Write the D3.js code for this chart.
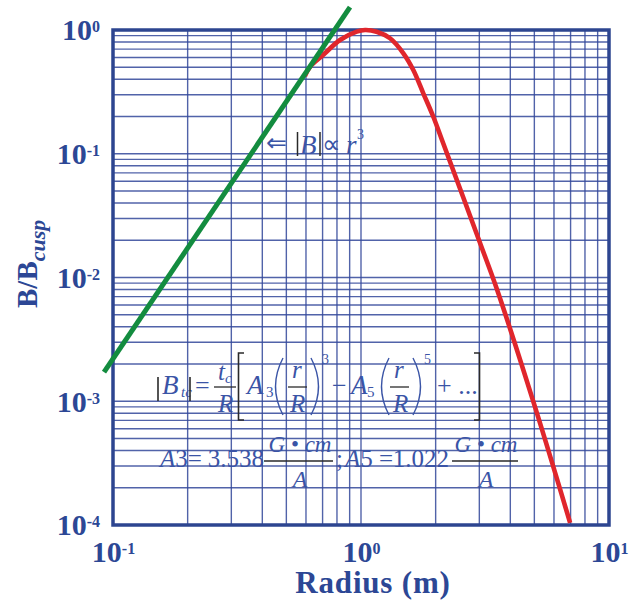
<!DOCTYPE html>
<html><head><meta charset="utf-8">
<script src="https://cdn.jsdelivr.net/npm/d3@7"></script>
<style>body{margin:0;background:#fff} svg{display:block}</style>
</head><body>
<script>
// ---- data ----
const radiusRed = [0.594, 0.623, 0.703, 0.823, 0.961, 1.038, 1.156, 1.309, 1.482, 1.625, 1.783, 1.957, 2.147, 3.02, 3.53, 5.03, 6.97];
const fieldRed  = [0.425, 0.505, 0.628, 0.830, 0.969, 1.0, 0.969, 0.857, 0.648, 0.475, 0.308, 0.199, 0.121, 0.019, 0.00807, 0.00090, 0.000104];
const radiusGreen = [0.092, 0.903];
const fieldGreen  = [0.00172, 1.53];
const xTickValues = [0.1, 1, 10];
const yTickValues = [1, 0.1, 0.01, 0.001, 0.0001];
const xTitle = "Radius (m)";
const yTitleMain = "B/B";
const yTitleSub = "cusp";

// ---- setup ----
const W = 641, H = 605;
const svg = d3.select("body").append("svg").attr("width", W).attr("height", H);
svg.append("rect").attr("width", W).attr("height", H).attr("fill", "#fff");

const x = d3.scaleLog().domain([0.1, 10]).range([113, 609]);
const y = d3.scaleLog().domain([1e-4, 1]).range([525, 30]);

const gridColor = "#33489a";
const axisTextColor = "#2c4795";
const formulaColor = "#3a54a6";
const darkInk = "#2a2a2a";
const serif = "'Liberation Serif', 'Times New Roman', serif";

// grid
const grid = svg.append("g");
grid.selectAll("line.v").data(x.ticks()).join("line").attr("class", "v")
  .attr("x1", d => x(d)).attr("x2", d => x(d))
  .attr("y1", y.range()[1]).attr("y2", y.range()[0])
  .attr("stroke", gridColor).attr("stroke-width", 1.4).attr("stroke-opacity", 0.85);
grid.selectAll("line.h").data(y.ticks()).join("line").attr("class", "h")
  .attr("y1", d => y(d)).attr("y2", d => y(d))
  .attr("x1", x.range()[0]).attr("x2", x.range()[1])
  .attr("stroke", gridColor).attr("stroke-width", 1.4).attr("stroke-opacity", 0.85);

// border
svg.append("rect")
  .attr("x", x.range()[0]).attr("y", y.range()[1])
  .attr("width", x.range()[1] - x.range()[0]).attr("height", y.range()[0] - y.range()[1])
  .attr("fill", "none").attr("stroke", "#2d4590").attr("stroke-width", 3.5);

// axes (labels only)
function supLabel(sel) {
  sel.each(function(d) {
    const t = d3.select(this);
    const e = Math.round(Math.log10(d));
    t.text(null);
    t.append("tspan").text("10");
    t.append("tspan").attr("dy", "-0.5em").attr("font-size", 16).text(String(e));
  });
}
const gx = svg.append("g").attr("transform", `translate(0,${y.range()[0]})`)
  .call(d3.axisBottom(x).tickValues(xTickValues).tickSize(0).tickFormat(() => ""));
gx.select(".domain").remove();
gx.selectAll(".tick text")
  .attr("y", 37).attr("dy", 0)
  .attr("font-family", serif).attr("font-weight", "bold").attr("font-size", 30)
  .attr("fill", axisTextColor).attr("text-anchor", "middle")
  .call(supLabel);

const gy = svg.append("g").attr("transform", `translate(${x.range()[0]},0)`)
  .call(d3.axisLeft(y).tickValues(yTickValues).tickSize(0).tickPadding(13).tickFormat(() => ""));
gy.select(".domain").remove();
gy.selectAll(".tick text")
  .attr("dy", "0.33em")
  .attr("font-family", serif).attr("font-weight", "bold").attr("font-size", 30)
  .attr("fill", axisTextColor).attr("text-anchor", "end")
  .call(supLabel);

// axis titles
svg.append("text").attr("x", 373).attr("y", 593).attr("text-anchor", "middle")
  .attr("font-family", serif).attr("font-weight", "bold").attr("font-size", 31)
  .attr("letter-spacing", 0.8).attr("fill", axisTextColor).text(xTitle);

const yt = svg.append("text").attr("transform", "translate(37,308) rotate(-90)")
  .attr("font-family", serif).attr("font-weight", "bold").attr("font-size", 29)
  .attr("fill", axisTextColor);
yt.append("tspan").text(yTitleMain);
yt.append("tspan").attr("dy", 8).attr("font-size", 22).attr("font-style", "italic").text(yTitleSub);

// curves
const line = d3.line().x(d => x(d[0])).y(d => y(d[1]));
svg.append("path")
  .datum(d3.zip(radiusRed, fieldRed))
  .attr("d", line.curve(d3.curveCatmullRom.alpha(0.5)))
  .attr("fill", "none").attr("stroke", "#e0262c").attr("stroke-width", 4.6);
svg.append("path")
  .datum(d3.zip(radiusGreen, fieldGreen))
  .attr("d", d3.line().x(d => x(d[0])).y(d => y(d[1])))
  .attr("fill", "none").attr("stroke", "#138c3f").attr("stroke-width", 5);

// ---- annotations ----
const ann = svg.append("g");
function txt(px, py, s, size, opts = {}) {
  return ann.append("text").attr("x", px).attr("y", py)
    .attr("font-family", opts.family || serif).attr("font-size", size)
    .attr("font-style", opts.italic ? "italic" : "normal")
    .attr("text-anchor", opts.anchor || "start")
    .attr("fill", opts.fill || formulaColor).text(s);
}
function seg(x1, y1, x2, y2, w = 1.4, c = darkInk) {
  ann.append("line").attr("x1", x1).attr("y1", y1).attr("x2", x2).attr("y2", y2)
    .attr("stroke", c).attr("stroke-width", w);
}
function pathD(d, w = 1.4, c = formulaColor) {
  ann.append("path").attr("d", d).attr("fill", "none").attr("stroke", c).attr("stroke-width", w);
}

// ⇐ |B| ∝ r^3
txt(266, 151, "⇐", 25, {family: "'DejaVu Sans', sans-serif"});
seg(297.5, 132, 297.5, 156, 1.5);
txt(300, 154, "B", 27, {italic: true});
seg(320, 132, 320, 156, 1.5);
txt(322, 153, "∝", 26);
txt(346, 154, "r", 27, {italic: true});
txt(357, 139, "3", 14);

// |B_tc| = t_c/R [ A3 (r/R)^3 − A5 (r/R)^5 + ... ]
seg(158, 377, 158, 401, 1.6);
txt(162, 394, "B", 27, {italic: true});
txt(181, 397, "tc", 15, {italic: true});
seg(190, 377, 190, 401, 1.6);
txt(195, 394, "=", 26);
txt(218, 380, "t", 25, {italic: true});
txt(225, 383, "c", 15, {italic: true});
seg(214, 387, 236, 387, 1.3);
txt(218, 412, "R", 25, {italic: true});
pathD("M244,353 L238.5,353 L238.5,420 L244,420", 1.6, darkInk);
txt(247, 394, "A", 27, {italic: true});
txt(266, 397, "3", 15);
pathD("M283,358 Q268,386.5 283,415");
txt(292, 378, "r", 25, {italic: true});
seg(288, 387, 307, 387, 1.3);
txt(290, 412, "R", 25, {italic: true});
pathD("M311,358 Q326,386.5 311,415");
txt(322, 364, "3", 14);
txt(332, 394, "−", 26);
txt(351, 394, "A", 27, {italic: true});
txt(367, 397, "5", 15);
pathD("M389,358 Q374,386.5 389,415");
txt(394, 378, "r", 25, {italic: true});
seg(390, 387, 409, 387, 1.3);
txt(393, 412, "R", 25, {italic: true});
pathD("M413,358 Q428,386.5 413,415");
txt(424, 364, "5", 14);
txt(437, 394, "+ ...", 26);
pathD("M474,353 L479.5,353 L479.5,420 L474,420", 1.6, darkInk);

// A3 = 3.538 G•cm/A ; A5 = 1.022 G•cm/A
const l2 = 467;
const a3 = txt(160, l2, "", 25);
a3.append("tspan").attr("font-style", "italic").text("A");
a3.append("tspan").text("3=");
txt(264, l2, "3.538", 25, {anchor: "end"});
txt(300, 452, "G • cm", 23, {italic: true, anchor: "middle"});
seg(264, 461, 333, 461, 1.4);
txt(300, 487, "A", 24, {italic: true, anchor: "middle"});
txt(336, l2, ";", 25);
const a5 = txt(345, l2, "", 25);
a5.append("tspan").attr("font-style", "italic").text("A");
a5.append("tspan").text("5 =");
txt(449, l2, "1.022", 25, {anchor: "end"});
txt(486, 452, "G • cm", 23, {italic: true, anchor: "middle"});
seg(452, 461, 518, 461, 1.4);
txt(486, 487, "A", 24, {italic: true, anchor: "middle"});
</script>
</body></html>
